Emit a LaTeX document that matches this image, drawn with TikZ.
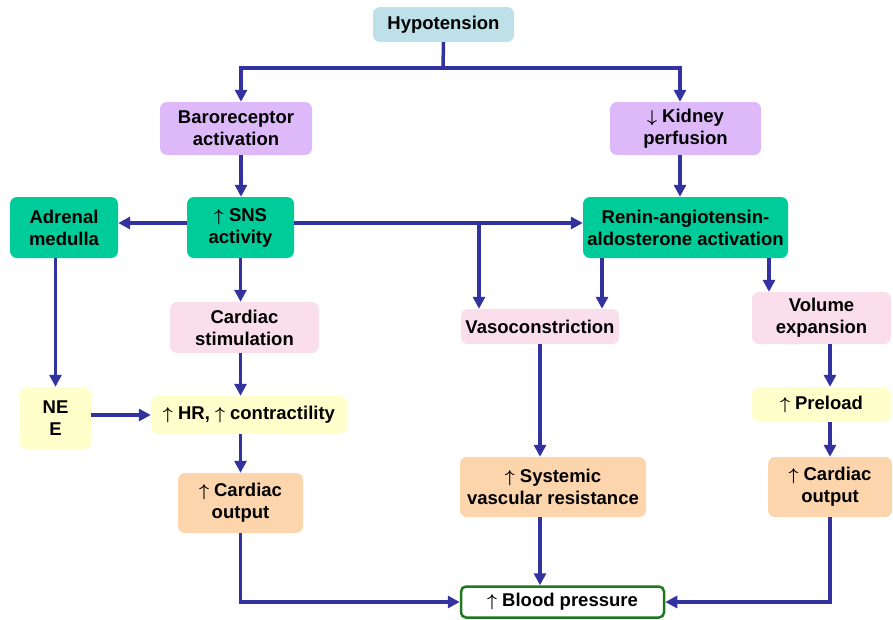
\documentclass[tikz,border=0pt]{standalone}
\usepackage{fontspec}
\setmainfont{Liberation Sans}
\usetikzlibrary{arrows.meta,calc}
\definecolor{arrowc}{RGB}{51,51,160}
\definecolor{cHypo}{RGB}{190,224,232}
\definecolor{cLav}{RGB}{221,185,250}
\definecolor{cGreen}{RGB}{0,204,153}
\definecolor{cPink}{RGB}{250,222,236}
\definecolor{cYellow}{RGB}{255,255,204}
\definecolor{cPeach}{RGB}{252,213,172}
\definecolor{cBP}{RGB}{30,120,30}
\newcommand\uarr{{\boldmath$\uparrow$}}
\newcommand\darr{{\boldmath$\downarrow$}}
\begin{document}
\begin{tikzpicture}[x=1pt,y=-1pt,
  box/.style={rounded corners=7pt, inner sep=0pt, align=center,
    font=\fontsize{18.5}{22}\selectfont\bfseries},
  arr/.style={draw=arrowc, line width=3.5pt, -{Triangle[length=12pt,width=12pt]}},
  conn/.style={draw=arrowc, line width=3.5pt}]
\useasboundingbox (0,0) rectangle (893,619);
\node[box, fill=cHypo, minimum width=141pt, minimum height=35pt] (hypo) at (443.5,24.5) {Hypotension};
\node[box, fill=cLav, minimum width=152pt, minimum height=53pt] (baro) at (236,128.5) {Baroreceptor\\activation};
\node[box, fill=cLav, minimum width=151pt, minimum height=53pt] (kid) at (685.5,128.5) {\darr\ Kidney\\perfusion};
\node[box, fill=cGreen, minimum width=108pt, minimum height=61pt] (adr) at (64,227.5) {Adrenal\\medulla};
\node[box, fill=cGreen, minimum width=107pt, minimum height=61pt] (sns) at (240.5,227.5) {\uarr\ SNS\\activity};
\node[box, fill=cGreen, minimum width=205pt, minimum height=61pt] (renin) at (685.5,227.5) {Renin-angiotensin-\\aldosterone activation};
\node[box, fill=cPink, minimum width=149pt, minimum height=51pt] (cs) at (244.5,327.5) {Cardiac\\stimulation};
\node[box, fill=cPink, minimum width=158pt, minimum height=35pt] (vaso) at (540,326.5) {Vasoconstriction};
\node[box, fill=cPink, minimum width=139pt, minimum height=52pt] (vol) at (821.5,318) {Volume\\expansion};
\node[box, fill=cYellow, minimum width=71pt, minimum height=62pt] (ne) at (55.5,418) {NE\\E};
\node[box, fill=cYellow, minimum width=196pt, minimum height=38pt] (hr) at (249,415) {\uarr\ HR, \uarr\ contractility};
\node[box, fill=cYellow, minimum width=139pt, minimum height=35pt] (pre) at (821.5,404.5) {\uarr\ Preload};
\node[box, fill=cPeach, minimum width=125pt, minimum height=60pt] (col) at (240.5,503) {\uarr\ Cardiac\\output};
\node[box, fill=cPeach, minimum width=186pt, minimum height=60pt] (svr) at (553,487) {\uarr\ Systemic\\vascular resistance};
\node[box, fill=cPeach, minimum width=124pt, minimum height=60pt] (cor) at (830,487) {\uarr\ Cardiac\\output};
\node[box, fill=white, draw=cBP, line width=2.5pt, rounded corners=5pt, minimum width=203pt, minimum height=31pt] (bp) at (562.5,602) {\uarr\ Blood pressure};
% connectors
\coordinate (split) at (443,68);
\draw[conn] (hypo.south) -- (split);
\draw[arr] (split) -| ([xshift=5pt]baro.north);
\draw[arr] (split) -| ([xshift=-5.5pt]kid.north);
\draw[arr] ([xshift=5pt]baro.south) -- ([xshift=5pt]baro.south |- sns.north);
\draw[arr] ([xshift=-5.5pt]kid.south) -- ([xshift=-5.5pt]kid.south |- renin.north);
\draw[arr] ([yshift=4.5pt]sns.west) -- ([yshift=4.5pt]sns.west -| adr.east);
\draw[arr] ([yshift=4.5pt]sns.east) -- ([yshift=4.5pt]sns.east -| renin.west);
\coordinate (br) at (479,223);
\draw[arr] (br) -- (br |- vaso.north);
\draw[arr] ([xshift=-83.5pt]renin.south) -- ([xshift=-83.5pt]renin.south |- vaso.north);
\draw[arr] ([xshift=83.5pt]renin.south) -- ([xshift=83.5pt]renin.south |- vol.north);
\draw[arr] (sns.south) -- (sns.south |- cs.north);
\draw[arr] (sns.south |- cs.south) -- (sns.south |- hr.north);
\draw[arr] (ne.north |- adr.south) -- (ne.north);
\draw[arr] (ne.east |- hr.west) -- (hr.west);
\draw[arr] (col.north |- hr.south) -- (col.north);
\draw[arr] (col.south) |- (bp.west);
\draw[arr] (vaso.south) -- (vaso.south |- svr.north);
\draw[arr] (vaso.south |- svr.south) -- (vaso.south |- bp.north);
\draw[arr] (cor.north |- vol.south) -- (cor.north |- pre.north);
\draw[arr] (cor.north |- pre.south) -- (cor.north);
\draw[arr] (cor.south) |- (bp.east);
\end{tikzpicture}
\end{document}
